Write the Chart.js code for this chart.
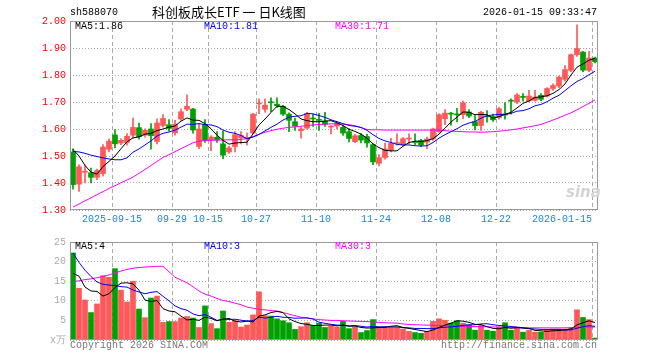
<!DOCTYPE html>
<html>
<head>
<meta charset="utf-8">
<script src="https://cdn.jsdelivr.net/npm/chart.js@4.4.1/dist/chart.umd.min.js"></script>
<style>
  body { margin: 0; background: #fff; width: 660px; height: 360px; position: relative; overflow: hidden;
         font-family: "Liberation Mono", monospace; font-size: 10px; }
  canvas { position: absolute; left: 0; }
  .t { position: absolute; white-space: nowrap; line-height: 12px; }
</style>
</head>
<body>
<canvas id="kChart" width="660" height="232" style="top:0"></canvas>
<canvas id="volChart" width="660" height="128" style="top:232px"></canvas>

<div class="t" style="left:70px;top:7px;color:#000">sh588070</div>
<div class="t" style="left:152px;top:4px;font-family:'Noto Sans CJK SC';font-size:13px;line-height:16px;color:#000">科创板成长ETF 一 日K线图</div>
<div class="t" style="right:63px;top:7px;color:#000">2026-01-15 09:33:47</div>

<div class="t" style="left:75px;top:21px;color:#000">MA5:1.86</div>
<div class="t" style="left:204px;top:21px;color:#0000ff">MA10:1.81</div>
<div class="t" style="left:335px;top:21px;color:#ff00ff">MA30:1.71</div>

<div class="t" style="left:566px;top:186px;color:#d4d4d4;font-family:'DejaVu Sans';font-weight:bold;font-style:italic;font-size:15px">sina</div>

<div class="t" style="left:75px;top:241px;color:#000">MA5:4</div>
<div class="t" style="left:204px;top:241px;color:#0000ff">MA10:3</div>
<div class="t" style="left:335px;top:241px;color:#ff00ff">MA30:3</div>

<div class="t" style="left:70px;top:340px;color:#777">Copyright 2026 SINA.COM</div>
<div class="t" style="right:63px;top:340px;color:#777">http://finance.sina.com.cn</div>

<script>
// trading days shown on the chart
const dates = [
  '2025-09-04','2025-09-05','2025-09-08','2025-09-09','2025-09-10','2025-09-11','2025-09-12',
  '2025-09-15','2025-09-16','2025-09-17','2025-09-18','2025-09-19','2025-09-22','2025-09-23',
  '2025-09-24','2025-09-25','2025-09-26','2025-09-29','2025-09-30','2025-10-09','2025-10-10',
  '2025-10-13','2025-10-14','2025-10-15','2025-10-16','2025-10-17','2025-10-20','2025-10-21',
  '2025-10-22','2025-10-23','2025-10-24','2025-10-27','2025-10-28','2025-10-29','2025-10-30',
  '2025-10-31','2025-11-03','2025-11-04','2025-11-05','2025-11-06','2025-11-07','2025-11-10',
  '2025-11-11','2025-11-12','2025-11-13','2025-11-14','2025-11-17','2025-11-18','2025-11-19',
  '2025-11-20','2025-11-21','2025-11-24','2025-11-25','2025-11-26','2025-11-27','2025-11-28',
  '2025-12-01','2025-12-02','2025-12-03','2025-12-04','2025-12-05','2025-12-08','2025-12-09',
  '2025-12-10','2025-12-11','2025-12-12','2025-12-15','2025-12-16','2025-12-17','2025-12-18',
  '2025-12-19','2025-12-22','2025-12-23','2025-12-24','2025-12-25','2025-12-26','2025-12-29',
  '2025-12-30','2025-12-31','2026-01-05','2026-01-06','2026-01-07','2026-01-08','2026-01-09',
  '2026-01-12','2026-01-13','2026-01-14','2026-01-15'
];

const opens = [
  1.515,1.396,1.440,1.438,1.421,1.435,1.525,1.578,1.548,1.550,
  1.577,1.605,1.577,1.600,1.554,1.613,1.616,1.586,1.637,1.673,
  1.674,1.535,1.617,1.560,1.569,1.545,1.515,1.535,1.567,1.563,
  1.585,1.693,1.673,1.700,1.692,1.684,1.655,1.627,1.594,1.603,
  1.640,1.635,1.630,1.607,1.611,1.606,1.590,1.553,1.576,1.572,
  1.542,1.473,1.494,1.521,1.546,1.542,1.563,1.553,1.557,1.551,
  1.563,1.590,1.638,1.658,1.655,1.653,1.663,1.627,1.613,1.648,
  1.646,1.642,1.654,1.706,1.700,1.720,1.704,1.706,1.725,1.722,
  1.750,1.759,1.784,1.817,1.875,1.885,1.817,1.863
];
const highs = [
  1.527,1.467,1.467,1.455,1.452,1.542,1.564,1.598,1.564,1.583,
  1.640,1.622,1.601,1.620,1.638,1.653,1.635,1.632,1.675,1.727,
  1.677,1.620,1.635,1.576,1.590,1.592,1.536,1.590,1.590,1.585,
  1.658,1.712,1.712,1.715,1.715,1.688,1.660,1.640,1.606,1.662,
  1.656,1.658,1.662,1.613,1.626,1.613,1.602,1.580,1.583,1.580,
  1.545,1.505,1.548,1.565,1.582,1.568,1.582,1.582,1.562,1.570,
  1.603,1.656,1.672,1.662,1.677,1.703,1.672,1.650,1.665,1.668,
  1.655,1.680,1.698,1.712,1.731,1.731,1.743,1.743,1.731,1.753,
  1.767,1.796,1.835,1.878,1.986,1.888,1.888,1.866
];
const lows = [
  1.377,1.369,1.400,1.400,1.412,1.425,1.515,1.530,1.542,1.540,
  1.567,1.562,1.570,1.525,1.545,1.607,1.592,1.577,1.632,1.668,
  1.585,1.527,1.550,1.520,1.550,1.490,1.510,1.515,1.545,1.540,
  1.582,1.657,1.662,1.664,1.680,1.650,1.590,1.595,1.566,1.600,
  1.610,1.595,1.610,1.582,1.600,1.576,1.552,1.549,1.548,1.533,
  1.468,1.463,1.488,1.515,1.540,1.538,1.546,1.542,1.535,1.527,
  1.558,1.587,1.616,1.614,1.626,1.638,1.642,1.597,1.595,1.625,
  1.628,1.636,1.636,1.655,1.694,1.703,1.700,1.703,1.705,1.718,
  1.743,1.753,1.777,1.812,1.869,1.812,1.812,1.845
];
const closes = [
  1.394,1.460,1.443,1.421,1.446,1.533,1.555,1.545,1.558,1.573,
  1.606,1.571,1.595,1.575,1.622,1.639,1.602,1.618,1.664,1.684,
  1.596,1.600,1.557,1.570,1.560,1.503,1.530,1.579,1.576,1.569,
  1.655,1.696,1.688,1.697,1.686,1.655,1.632,1.610,1.600,1.657,
  1.637,1.632,1.617,1.610,1.620,1.585,1.565,1.575,1.559,1.548,
  1.478,1.494,1.526,1.547,1.549,1.564,1.566,1.550,1.541,1.563,
  1.600,1.653,1.659,1.655,1.652,1.697,1.648,1.612,1.662,1.645,
  1.634,1.675,1.652,1.703,1.726,1.717,1.722,1.718,1.710,1.750,
  1.761,1.792,1.820,1.875,1.898,1.818,1.863,1.849
];

const ma5 = [
  1.524,1.500,1.465,1.440,1.433,1.461,1.480,1.500,1.527,1.553,
  1.567,1.571,1.581,1.584,1.594,1.600,1.607,1.611,1.629,1.641,
  1.633,1.632,1.620,1.601,1.577,1.558,1.544,1.548,1.550,1.551,
  1.582,1.615,1.637,1.661,1.684,1.684,1.672,1.656,1.637,1.631,
  1.627,1.627,1.629,1.631,1.623,1.613,1.599,1.591,1.581,1.566,
  1.545,1.531,1.521,1.519,1.519,1.536,1.550,1.555,1.554,1.557,
  1.564,1.581,1.603,1.626,1.644,1.663,1.662,1.653,1.654,1.653,
  1.640,1.646,1.654,1.662,1.678,1.695,1.704,1.717,1.719,1.723,
  1.732,1.746,1.767,1.800,1.829,1.841,1.855,1.861
];
const ma10 = [
  1.517,1.515,1.510,1.503,1.498,1.493,1.489,1.486,1.486,1.493,
  1.514,1.526,1.541,1.556,1.574,1.584,1.589,1.596,1.607,1.618,
  1.617,1.620,1.616,1.615,1.609,1.596,1.588,1.584,1.576,1.564,
  1.570,1.580,1.593,1.606,1.618,1.633,1.644,1.647,1.649,1.658,
  1.656,1.650,1.643,1.634,1.627,1.620,1.613,1.610,1.606,1.595,
  1.579,1.565,1.556,1.550,1.543,1.541,1.541,1.538,1.537,1.538,
  1.550,1.566,1.579,1.590,1.601,1.614,1.622,1.628,1.640,1.649,
  1.652,1.654,1.654,1.658,1.666,1.668,1.675,1.686,1.691,1.701,
  1.714,1.725,1.742,1.760,1.776,1.787,1.801,1.814
];
const ma30 = [
  1.311,1.322,1.334,1.345,1.357,1.368,1.380,1.390,1.401,1.411,
  1.422,1.436,1.450,1.465,1.480,1.495,1.505,1.516,1.527,1.538,
  1.549,1.555,1.557,1.558,1.559,1.559,1.560,1.560,1.561,1.565,
  1.572,1.580,1.588,1.594,1.599,1.603,1.606,1.608,1.610,1.613,
  1.615,1.617,1.618,1.619,1.619,1.618,1.616,1.612,1.605,1.598,
  1.597,1.597,1.596,1.596,1.596,1.596,1.596,1.596,1.596,1.596,
  1.596,1.596,1.594,1.592,1.591,1.590,1.589,1.589,1.588,1.589,
  1.590,1.592,1.594,1.597,1.600,1.604,1.608,1.612,1.617,1.625,
  1.633,1.642,1.651,1.660,1.671,1.683,1.695,1.708
];

// volume, in 万 lots
const volumes = [
  22.2,13.2,10.2,7.0,9.2,16.4,16.0,18.2,12.7,9.7,
  15.0,7.9,5.7,10.7,11.2,4.5,4.7,4.7,5.6,6.0,
  5.6,3.2,8.7,4.2,2.9,7.4,4.5,4.9,3.3,3.8,
  6.4,12.3,6.2,6.1,5.4,4.9,4.4,2.7,3.4,4.4,
  3.7,4.3,3.2,3.5,3.3,4.75,2.9,3.3,1.9,2.4,
  5.2,3.3,3.25,3.25,3.25,2.8,2.2,1.9,1.7,2.2,
  4.75,5.4,5.0,4.3,4.9,4.3,3.9,2.5,3.7,2.5,
  2.25,3.3,4.4,2.5,3.3,2.0,2.5,2.0,2.0,2.5,
  2.8,2.8,2.8,3.1,7.7,5.75,5.2,0.5
];
const volMa5 = [
  17.0,16.3,13.5,12.5,12.4,11.2,11.8,13.4,14.5,14.6,
  14.3,12.7,10.2,9.8,10.1,8.0,7.4,7.2,6.1,5.1,
  5.3,5.0,5.8,5.5,4.9,5.3,5.5,4.8,4.6,4.8,
  4.6,6.1,6.4,7.0,7.3,7.0,5.4,4.7,4.2,4.0,
  3.7,3.7,3.8,3.8,3.6,3.8,3.5,3.55,3.2,3.05,
  3.1,3.2,3.2,3.5,3.65,3.2,2.95,2.7,2.4,2.15,
  2.55,3.2,3.8,4.3,4.9,4.8,4.5,4.0,3.9,3.4,
  2.97,2.85,3.2,3.0,3.15,3.1,2.95,2.45,2.35,2.2,
  2.35,2.4,2.6,2.8,3.85,4.4,4.9,4.45
];
const volMa10 = [
  22.2,19.8,17.8,16.2,14.8,14.2,14.0,13.9,13.6,13.5,
  12.75,12.25,11.8,12.15,12.35,11.15,10.0,8.7,8.0,7.6,
  6.65,6.2,6.5,5.8,5.0,5.3,5.25,5.3,5.05,4.85,
  4.95,5.8,5.6,5.8,6.05,5.8,5.75,5.55,5.6,5.65,
  5.35,4.55,4.25,4.0,3.8,3.75,3.6,3.7,3.5,3.3,
  3.45,3.35,3.4,3.35,3.35,3.15,3.1,2.95,2.95,2.9,
  2.9,3.1,3.25,3.35,3.5,3.7,3.85,3.9,4.1,4.15,
  3.9,3.7,3.6,3.45,3.3,3.05,2.9,2.8,2.7,2.7,
  2.7,2.7,2.5,2.6,3.0,3.4,3.65,3.5
];
const volMa30 = [
  14.9,15.1,15.4,15.6,15.9,16.2,16.6,17.1,17.6,18.0,
  18.3,18.5,18.6,18.7,18.8,18.8,17.4,16.0,15.3,14.6,
  13.6,12.5,11.7,11.2,10.6,10.1,9.8,9.4,9.0,8.4,
  8.1,7.8,7.7,7.5,7.4,7.0,6.6,6.2,5.8,5.6,
  5.4,5.2,5.1,5.0,5.0,4.9,4.85,4.8,4.75,4.7,
  4.6,4.5,4.4,4.35,4.3,4.1,3.95,3.9,3.85,3.8,
  3.75,3.7,3.65,3.6,3.55,3.5,3.45,3.42,3.4,3.37,
  3.33,3.3,3.25,3.2,3.12,3.1,3.1,3.1,3.1,3.1,
  3.1,3.1,3.1,3.15,3.25,3.3,3.3,3.3
];

// dates that get a dashed vertical line, and the text written under them
const gridDates = ['2025-09-15','2025-09-29','2025-10-15','2025-10-27','2025-11-10',
                   '2025-11-24','2025-12-08','2025-12-22','2026-01-15'];
const tickText = ['2025-09-15','09-29','10-15','10-27','11-10','11-24','12-08','12-22','2026-01-15'];

const UP = '#ff5858';
const DOWN = '#00a000';
const candleColors = closes.map((c, i) => c >= opens[i] ? UP : DOWN);
const gridIdx = gridDates.map(d => dates.indexOf(d));

// the last date label sits left of its line (right-aligned), i.e. 5 slots earlier
const labelAt = {};
gridIdx.forEach((idx, k) => { labelAt[k === gridIdx.length - 1 ? idx - 5 : idx] = tickText[k]; });

Chart.defaults.font.family = '"Liberation Mono", monospace';
Chart.defaults.font.size = 10;

const frame = {
    id: 'frame',
    afterDatasetsDraw(chart) {
        const { ctx, chartArea: a } = chart;
        ctx.save();
        ctx.strokeStyle = '#999';
        ctx.lineWidth = 1;
        ctx.strokeRect(a.left + 0.5, a.top + 0.5, a.right - a.left - 1, a.bottom - a.top - 1);
        ctx.restore();
    }
};

const xGrid = {
    offset: true,
    grid: {
        offset: true,
        drawTicks: false,
        color: ctx => gridIdx.includes(ctx.index) ? '#aaa' : 'rgba(0,0,0,0)'
    },
    border: { display: false, dash: [4, 3] }
};

const line = (data, color) => ({
    type: 'line', data, borderColor: color, borderWidth: 1,
    pointRadius: 0, tension: 0, order: 0
});

new Chart(document.getElementById('kChart'), {
    type: 'bar',
    data: {
        labels: dates,
        datasets: [
            line(ma5, '#000000'),
            line(ma10, '#0000ff'),
            line(ma30, '#ff00ff'),
            {
                data: opens.map((o, i) => [o, closes[i]]),
                backgroundColor: candleColors,
                barThickness: 5,
                minBarLength: 1,
                grouped: false,
                order: 1
            },
            {
                data: lows.map((l, i) => [l, highs[i]]),
                backgroundColor: candleColors,
                barThickness: 1,
                grouped: false,
                order: 2
            }
        ]
    },
    options: {
        responsive: false,
        animation: false,
        devicePixelRatio: 1,
        layout: { padding: { top: 21, right: 62, left: 0, bottom: 0 } },
        plugins: { legend: { display: false }, tooltip: { enabled: false } },
        scales: {
            x: {
                ...xGrid,
                ticks: {
                    autoSkip: false,
                    maxRotation: 0,
                    padding: 3,
                    labelOffset: -3,
                    color: '#1a88d8',
                    callback: (v, i) => labelAt[i] || ''
                },
                afterFit: s => { s.height = 22; }
            },
            y: {
                min: 1.3,
                max: 2.0,
                ticks: { stepSize: 0.1, color: '#ff0000', padding: 4, callback: v => v.toFixed(2) },
                grid: { color: '#aaa', drawTicks: false },
                border: { display: false, dash: [1, 2] },
                afterFit: s => { s.width = 70; }
            }
        }
    },
    plugins: [frame]
});

new Chart(document.getElementById('volChart'), {
    type: 'bar',
    data: {
        labels: dates,
        datasets: [
            line(volMa5, '#000000'),
            line(volMa10, '#0000ff'),
            line(volMa30, '#ff00ff'),
            {
                data: volumes,
                backgroundColor: candleColors,
                barThickness: 5,
                order: 1
            }
        ]
    },
    options: {
        responsive: false,
        animation: false,
        devicePixelRatio: 1,
        layout: { padding: { top: 8, right: 62, left: 0, bottom: 20 } },
        plugins: { legend: { display: false }, tooltip: { enabled: false } },
        scales: {
            x: {
                ...xGrid,
                ticks: { display: false },
                afterFit: s => { s.height = 0; }
            },
            y: {
                min: 0,
                max: 25,
                ticks: { stepSize: 5, color: '#aaa', padding: 4, callback: v => v === 0 ? 'x万' : v },
                grid: { color: '#aaa', drawTicks: false },
                border: { display: false, dash: [1, 2] },
                afterFit: s => { s.width = 70; }
            }
        }
    },
    plugins: [frame]
});
</script>
</body>
</html>
